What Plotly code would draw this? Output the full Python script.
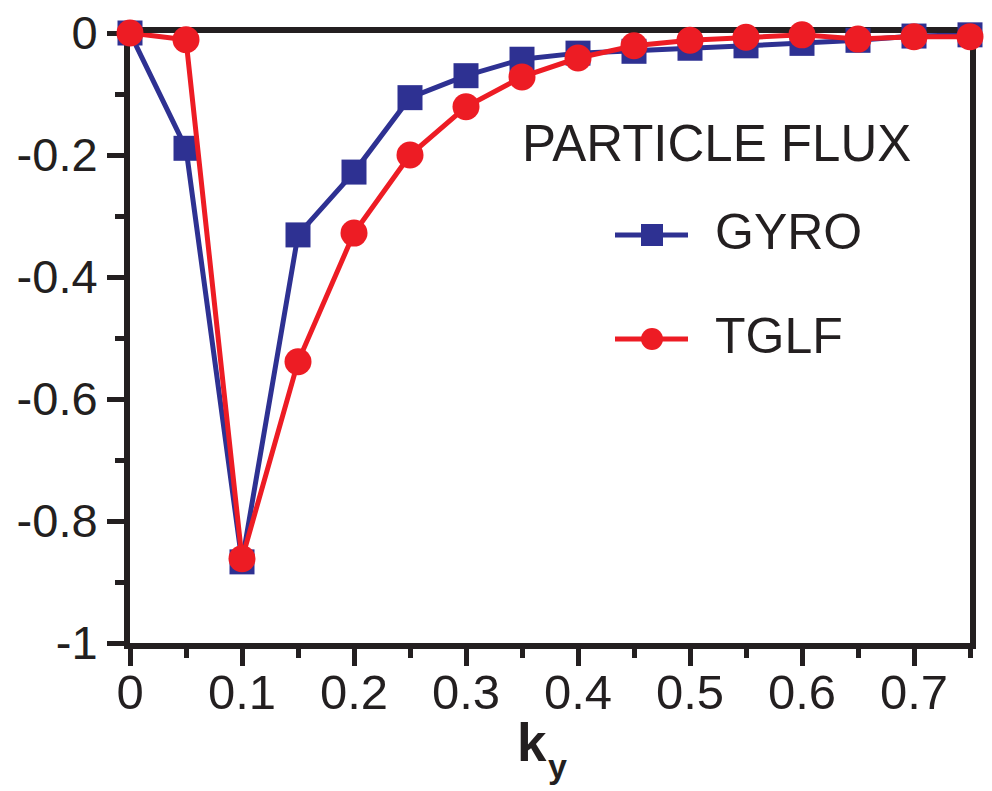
import plotly.graph_objects as go

# ---------------- data ----------------
ky = [0.0, 0.05, 0.10, 0.15, 0.20, 0.25, 0.30, 0.35, 0.40, 0.45, 0.50, 0.55, 0.60, 0.65, 0.70, 0.75]
gyro = [0.0, -0.189, -0.867, -0.331, -0.228, -0.106, -0.070, -0.043, -0.033, -0.030,
        -0.025, -0.021, -0.017, -0.012, -0.005, -0.003]
tglf = [0.0, -0.011, -0.862, -0.539, -0.328, -0.200, -0.121, -0.072, -0.041, -0.021,
        -0.012, -0.007, -0.003, -0.010, -0.006, -0.006]

x_ticks = [0, 0.1, 0.2, 0.3, 0.4, 0.5, 0.6, 0.7]
x_tick_text = ["0", "0.1", "0.2", "0.3", "0.4", "0.5", "0.6", "0.7"]
y_ticks = [0, -0.2, -0.4, -0.6, -0.8, -1]
y_tick_text = ["0", "-0.2", "-0.4", "-0.6", "-0.8", "-1"]

legend_title = "PARTICLE FLUX"
series_names = ["GYRO", "TGLF"]
x_title_main = "k"
x_title_sub = "y"

# ---------------- style ----------------
BLUE = "#2E3192"
RED = "#ED1C24"
INK = "#231F20"
FONT = "Liberation Sans, Arial, Helvetica, sans-serif"

W, H = 992, 791
ML, MR, MT, MB = 130, 22, 33, 148
PW, PH = W - ML - MR, H - MT - MB

def px2paper_x(px):
    return (px - ML) / PW

def px2paper_y(py):
    return (H - MB - py) / PH

fig = go.Figure()
fig.add_trace(go.Scatter(
    x=ky, y=gyro, name=series_names[0], mode="lines+markers",
    line=dict(color=BLUE, width=5),
    marker=dict(symbol="square", size=25, color=BLUE),
    cliponaxis=False, showlegend=False))
fig.add_trace(go.Scatter(
    x=ky, y=tglf, name=series_names[1], mode="lines+markers",
    line=dict(color=RED, width=5),
    marker=dict(symbol="circle", size=27, color=RED),
    cliponaxis=False, showlegend=False))

axis_common = dict(
    showline=True, linewidth=6, linecolor=INK, mirror=True,
    ticks="outside", tickwidth=5, tickcolor=INK,
    showgrid=False, zeroline=False, layer="below traces",
    automargin=False,
)

fig.update_xaxes(
    range=[0, 0.75], tickmode="array", tickvals=x_ticks, ticktext=x_tick_text,
    ticklen=17, tickfont=dict(family=FONT, size=49, color=INK),
    ticklabelstandoff=-16,
    minor=dict(dtick=0.05, tick0=0, ticks="outside", ticklen=9, tickwidth=5, tickcolor=INK),
    **axis_common)
fig.update_yaxes(
    range=[-1, 0], tickmode="array", tickvals=y_ticks, ticktext=y_tick_text,
    ticklen=17, tickfont=dict(family=FONT, size=47, color=INK),
    minor=dict(dtick=0.1, tick0=0, ticks="outside", ticklen=9, tickwidth=5, tickcolor=INK),
    **axis_common)

# axis title k_y (bold k with lowered bold subscript y)
fig.add_annotation(
    text="<b>" + x_title_main + "</b>", xref="paper", yref="paper",
    x=px2paper_x(549), y=px2paper_y(761), xanchor="right", yanchor="bottom",
    yshift=-13, showarrow=False, font=dict(family=FONT, size=53, color=INK))
fig.add_annotation(
    text="<b>" + x_title_sub + "</b>", xref="paper", yref="paper",
    x=px2paper_x(546), y=px2paper_y(745), xanchor="left", yanchor="top",
    showarrow=False, font=dict(family=FONT, size=34, color=INK))

# custom legend
fig.add_annotation(
    text=legend_title, xref="paper", yref="paper",
    x=px2paper_x(520), y=px2paper_y(143), xanchor="left", yanchor="middle",
    showarrow=False, font=dict(family=FONT, size=51, color=INK))

leg_items = [(series_names[0], BLUE, "rect", 235, 232),
             (series_names[1], RED, "circle", 339, 336)]
for name, col, shp, ly, ty in leg_items:
    fig.add_shape(type="line", xref="paper", yref="paper",
                  x0=px2paper_x(615), x1=px2paper_x(688),
                  y0=px2paper_y(ly), y1=px2paper_y(ly),
                  line=dict(color=col, width=5))
    fig.add_shape(type=shp, xref="paper", yref="paper",
                  xsizemode="pixel", ysizemode="pixel",
                  xanchor=px2paper_x(652), yanchor=px2paper_y(ly),
                  x0=-11, x1=11, y0=-11, y1=11,
                  fillcolor=col, line=dict(width=0))
    fig.add_annotation(
        text=name, xref="paper", yref="paper",
        x=px2paper_x(713), y=px2paper_y(ty), xanchor="left", yanchor="middle",
        showarrow=False, font=dict(family=FONT, size=50, color=INK))

fig.update_layout(
    width=W, height=H, autosize=False,
    margin=dict(l=ML, r=MR, t=MT, b=MB),
    paper_bgcolor="white", plot_bgcolor="white",
    showlegend=False,
)

fig.write_html("out.html")
